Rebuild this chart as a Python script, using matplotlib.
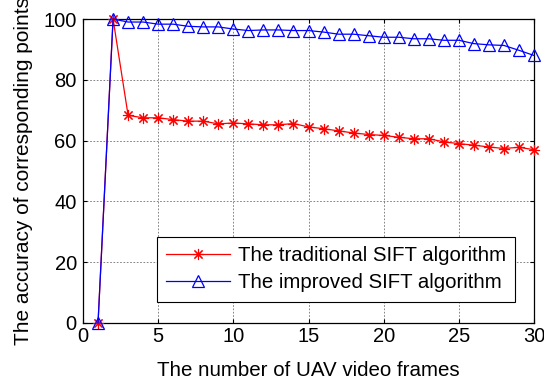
#!/usr/bin/env python3
"""Accuracy of corresponding points vs. number of UAV video frames."""

import numpy as np
import matplotlib
matplotlib.use("Agg")
import matplotlib.pyplot as plt

plt.rcParams["font.family"] = ["Liberation Sans", "DejaVu Sans"]

frames = list(range(1, 31))

traditional = [0, 100, 68.3, 67.5, 67.5, 66.9, 66.4, 66.4, 65.5, 65.8,
               65.5, 65.2, 65.2, 65.6, 64.5, 63.9, 63.2, 62.5, 62.0, 61.7,
               61.1, 60.6, 60.6, 59.6, 59.0, 58.5, 57.9, 57.4, 57.8, 57.0]

improved = [0, 100, 99.0, 99.0, 98.3, 98.3, 97.6, 97.4, 97.4, 96.7,
            96.2, 96.4, 96.4, 96.2, 96.2, 95.7, 95.0, 95.0, 94.5, 94.0,
            94.0, 93.5, 93.5, 93.0, 93.0, 91.9, 91.5, 91.3, 89.7, 88.0]

labels = ["The traditional SIFT algorithm", "The improved SIFT algorithm"]

x_ticks = [0, 5, 10, 15, 20, 25, 30]
y_ticks = [0, 20, 40, 60, 80, 100]


def main():
    fig = plt.figure(figsize=(5.44, 3.82), dpi=100)
    ax = fig.add_axes([83 / 544, 1 - 323 / 382, (534 - 83) / 544, (323 - 19) / 382])

    ax.plot(frames, traditional, color="red", lw=0.9, marker=(8, 2, 0),
            markersize=8, markeredgewidth=0.8, label=labels[0], clip_on=False, zorder=3)
    ax.plot(frames, improved, color="blue", lw=0.9, marker="^", markersize=8.5,
            markerfacecolor="none", markeredgewidth=0.9, label=labels[1],
            clip_on=False, zorder=4)

    ax.set_xlim(0, 30)
    ax.set_ylim(0, 100)
    ax.set_xticks(x_ticks)
    ax.set_yticks(y_ticks)
    ax.tick_params(direction="in", top=True, right=True, labelsize=14.5,
                   length=3, width=0.8, colors="black")
    ax.tick_params(axis="x", pad=3)
    ax.tick_params(axis="y", pad=4.5)
    ax.grid(True, color="#707070", linestyle=(0, (2, 2)), linewidth=0.6)
    for sp in ax.spines.values():
        sp.set_linewidth(0.9)
        sp.set_color("black")

    ax.set_xlabel("The number of UAV video frames", fontsize=14.8)
    ax.set_ylabel("The accuracy of corresponding points", fontsize=15)
    ax.xaxis.set_label_coords(0.5, -0.124)
    ax.yaxis.set_label_coords(-0.111, 0.5)

    leg = ax.legend(loc="upper right", bbox_to_anchor=(0.958, 0.283),
                    borderaxespad=0, fontsize=14.7,
                    fancybox=False, framealpha=1, edgecolor="black",
                    handlelength=3.1, handletextpad=0.4, borderpad=0.45,
                    labelspacing=0.4)
    leg.get_frame().set_linewidth(0.8)

    fig.savefig("out.png", dpi=100)


if __name__ == "__main__":
    main()
